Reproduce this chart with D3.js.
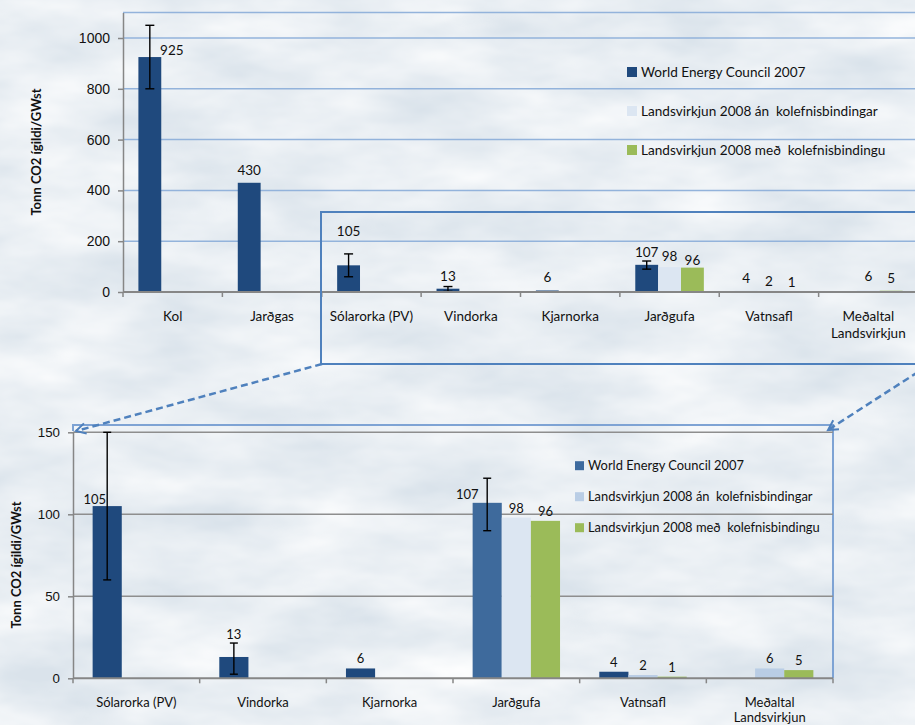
<!DOCTYPE html>
<html><head><meta charset="utf-8">
<script src="https://cdn.jsdelivr.net/npm/d3@7"></script>
<style>
html,body{margin:0;padding:0;background:#e6ebf0;}
svg{display:block;font-family:Lato,"Open Sans",sans-serif;}
</style>
</head><body>
<svg id="c" width="915" height="725"></svg>
<script>
// ---------------- DATA ----------------
const categories = ["Kol","Jarðgas","Sólarorka (PV)","Vindorka","Kjarnorka","Jarðgufa","Vatnsafl","Meðaltal Landsvirkjun"];
const seriesNames = ["World Energy Council 2007","Landsvirkjun 2008 án  kolefnisbindingar","Landsvirkjun 2008 með  kolefnisbindingu"];
const wec   = [925, 430, 105, 13, 6, 107, 4, null];
const lvAn  = [null, null, null, null, null, 98, 2, 6];
const lvMed = [null, null, null, null, null, 96, 1, 5];
const wecErrLow  = [800, null, 60, 2.5, null, 90, null, null];
const wecErrHigh = [1050, null, 150, 21.5, null, 122, null, null];
const topTicks = [0, 200, 400, 600, 800, 1000];
const bottomTicks = [0, 50, 100, 150];
const zoomCategories = categories.slice(2);
const yTitle = "Tonn CO2 ígildi/GWst";

// ---------------- SETUP ----------------
const svg = d3.select("#c");
const W = 915, H = 725;
const defs = svg.append("defs");
const f = defs.append("filter").attr("id","clouds").attr("x",0).attr("y",0).attr("width","100%").attr("height","100%");
f.append("feTurbulence").attr("type","fractalNoise").attr("baseFrequency","0.008 0.02").attr("numOctaves",4).attr("seed",7);
f.append("feColorMatrix").attr("type","matrix").attr("values","0 0 0 0 1  0 0 0 0 1  0 0 0 0 1  1.3 0 0 0 -0.25");
svg.append("rect").attr("width",W).attr("height",H).attr("fill","#dae3eb");
svg.append("rect").attr("width",W).attr("height",H).attr("filter","url(#clouds)");

const seriesVals = [wec, lvAn, lvMed];
const blue = "#1f497d", green = "#9bbb59";

function drawChart(o) {
  const g = svg.append("g");
  const x = d3.scaleBand().domain(o.cats).range([o.left, o.right]);
  const bw = x.bandwidth();
  const groupW = bw * 0.69;
  const xs = d3.scaleBand().domain([0,1,2]).range([0, groupW]);
  const off = (bw - groupW) / 2;
  const y = d3.scaleLinear().domain([0, o.ymax]).range([o.bottom, o.top]);

  // gridlines
  g.append("g").selectAll("line").data(o.grid).join("line")
    .attr("x1", o.left).attr("x2", o.right)
    .attr("y1", d => y(d)).attr("y2", d => y(d))
    .attr("stroke", o.gridColor).attr("stroke-width", 1.5);

  // bars
  const idx = o.cats.map(c => categories.indexOf(c));
  const bars = [];
  seriesVals.forEach((vals, s) => {
    idx.forEach((ci, k) => {
      const v = vals[ci];
      if (v == null) return;
      bars.push({s, cat: o.cats[k], ci, v});
    });
  });
  g.append("g").selectAll("rect").data(bars).join("rect")
    .attr("x", d => x(d.cat) + off + xs(d.s))
    .attr("width", xs.bandwidth())
    .attr("y", d => y(d.v))
    .attr("height", d => y(0) - y(d.v))
    .attr("fill", d => (o.pointColor[d.cat + "|" + d.s]) || o.colors[d.s]);

  // error bars
  const errs = idx.map((ci, k) => ({cat: o.cats[k], lo: wecErrLow[ci], hi: wecErrHigh[ci]})).filter(d => d.lo != null);
  const eg = g.append("g").attr("stroke", "#000").attr("stroke-width", 1.4);
  errs.forEach(d => {
    const cx = x(d.cat) + off + xs(0) + xs.bandwidth() / 2;
    eg.append("line").attr("x1", cx).attr("x2", cx).attr("y1", y(d.lo)).attr("y2", y(d.hi));
    [d.lo, d.hi].forEach(v => eg.append("line").attr("x1", cx - o.cap).attr("x2", cx + o.cap).attr("y1", y(v)).attr("y2", y(v)));
  });

  // axes
  const yAxis = d3.axisLeft(y).tickValues(o.ticks).tickFormat(d3.format("d")).tickSize(5).tickSizeOuter(0).tickPadding(8);
  const ya = g.append("g").attr("transform", `translate(${o.left},0)`).call(yAxis);
  ya.select(".domain").attr("stroke", "#868686").attr("stroke-width", 1.5);
  ya.selectAll(".tick line").attr("stroke", "#868686").attr("stroke-width", 1.5);
  ya.selectAll(".tick text").attr("font-size", o.tickFs).attr("fill", "#111").attr("font-family", null);

  g.append("line").attr("x1", o.left).attr("x2", o.right).attr("y1", y(0)).attr("y2", y(0))
    .attr("stroke", "#868686").attr("stroke-width", 2);
  const bounds = d3.range(o.cats.length + 1).map(i => o.left + i * bw);
  g.append("g").selectAll("line").data(bounds).join("line")
    .attr("x1", d => d).attr("x2", d => d).attr("y1", y(0)).attr("y2", y(0) + 5)
    .attr("stroke", "#868686").attr("stroke-width", 1.5);

  // category labels
  const cl = g.append("g").attr("font-size", o.fs).attr("fill", "#111").attr("text-anchor", "middle");
  o.cats.forEach(c => {
    const t = cl.append("text").attr("x", x(c) + bw / 2).attr("y", y(0) + 29).text(c);
    if (t.node().getComputedTextLength() > bw * 0.92) {
      t.text(null);
      c.split(" ").forEach((w, i) => t.append("tspan").attr("x", x(c) + bw / 2).attr("dy", i ? o.lineH : 0).text(w));
    }
  });

  // data labels
  const dl = g.append("g").attr("font-size", o.lfs).attr("fill", "#111").attr("text-anchor", "middle");
  bars.forEach(d => {
    const n = o.nudge[d.cat + "|" + d.s] || {};
    const cx = x(d.cat) + off + xs(d.s) + xs.bandwidth() / 2 + (n.dx || 0);
    const ref = n.ref === "err" ? y(wecErrHigh[d.ci]) : y(d.v);
    const yy = ref + (n.dy != null ? n.dy : -o.gap);
    dl.append("text").attr("x", cx).attr("y", yy).text(d3.format("d")(d.v));
  });

  // legend
  const lg = g.append("g").attr("font-size", o.legFs).attr("fill", "#111");
  seriesNames.forEach((nm, s) => {
    const ly = o.legY[s];
    lg.append("rect").attr("x", o.legX).attr("y", ly - o.sw / 2).attr("width", o.sw).attr("height", o.sw).attr("fill", o.legColors[s]);
    lg.append("text").attr("x", o.legX + o.sw + 4).attr("y", ly).attr("dy", "0.36em").style("white-space", "pre").text(nm);
  });

  // y title
  g.append("text").attr("transform", `translate(${o.titleX},${o.titleY}) rotate(-90)`)
    .attr("text-anchor", "middle").attr("font-weight", "bold").attr("font-size", o.tfs).attr("fill", "#111").text(yTitle);
  return {x, y};
}

// ---------------- TOP CHART ----------------
drawChart({
  cats: categories, left: 123, right: 918, top: 12.6, bottom: 292, ymax: 1100,
  ticks: topTicks, grid: [200, 400, 600, 800, 1000, 1100], gridColor: "#93b3db",
  colors: [blue, "#dce6f2", green], legColors: [blue, "#dce6f2", green], pointColor: {},
  cap: 4.5, fs: 13.5, tickFs: 14, lfs: 13.5, gap: 8, legFs: 13.6, sw: 10, lineH: 16.5,
  legX: 627, legY: [72, 111, 150],
  nudge: {"Kol|0": {dx: 22, dy: -2}, "Sólarorka (PV)|0": {ref: "err", dy: -18},
          "Jarðgufa|1": {dy: -6}, "Jarðgufa|2": {dy: -3},
          "Vatnsafl|1": {dy: -5}, "Vatnsafl|2": {dy: -5}, "Meðaltal Landsvirkjun|1": {dy: -9}},
  titleX: 41, titleY: 152, tfs: 13
});

// ---------------- BOTTOM CHART ----------------
svg.append("polyline").attr("points", "73,431 73,425 833,425 833,678")
  .attr("fill", "none").attr("stroke", "#7ea3d4").attr("stroke-width", 2);
drawChart({
  cats: zoomCategories, left: 73, right: 833, top: 432.3, bottom: 678.3, ymax: 150,
  ticks: bottomTicks, grid: [50, 100, 150], gridColor: "#8e8e8e",
  colors: [blue, "#b9cde5", green], legColors: ["#3d6a9e", "#b9cde5", green],
  pointColor: {"Jarðgufa|0": "#3e6a9c", "Jarðgufa|1": "#dce6f2"},
  cap: 4, fs: 13, tickFs: 13.3, lfs: 13, gap: 5, legFs: 12.9, sw: 9, lineH: 14.5,
  legX: 575, legY: [465.7, 496.7, 527.7],
  nudge: {"Sólarorka (PV)|0": {dx: -12.5, dy: -2}, "Jarðgufa|0": {dx: -20, dy: -4}, "Vindorka|0": {ref: "err", dy: -4}},
  titleX: 21, titleY: 565, tfs: 13
});

// ---------------- ZOOM BOX & ARROWS ----------------
const zc = "#4f81bd";
svg.append("rect").attr("x", 321).attr("y", 212).attr("width", 620).attr("height", 152)
  .attr("fill", "none").attr("stroke", zc).attr("stroke-width", 2);
function arrow(x1, y1, x2, y2) {
  svg.append("line").attr("x1", x1).attr("y1", y1).attr("x2", x2).attr("y2", y2)
    .attr("stroke", zc).attr("stroke-width", 2.5).attr("stroke-dasharray", "7,4");
  const a = Math.atan2(y2 - y1, x2 - x1), L = 11, sp = 0.5;
  const pts = [[x2 - L * Math.cos(a - sp), y2 - L * Math.sin(a - sp)], [x2, y2], [x2 - L * Math.cos(a + sp), y2 - L * Math.sin(a + sp)]];
  svg.append("polyline").attr("points", pts.map(p => p.join(",")).join(" "))
    .attr("fill", "none").attr("stroke", zc).attr("stroke-width", 2);
}
arrow(322, 364, 76, 431);
arrow(918, 372, 828, 430);
</script>
</body></html>
